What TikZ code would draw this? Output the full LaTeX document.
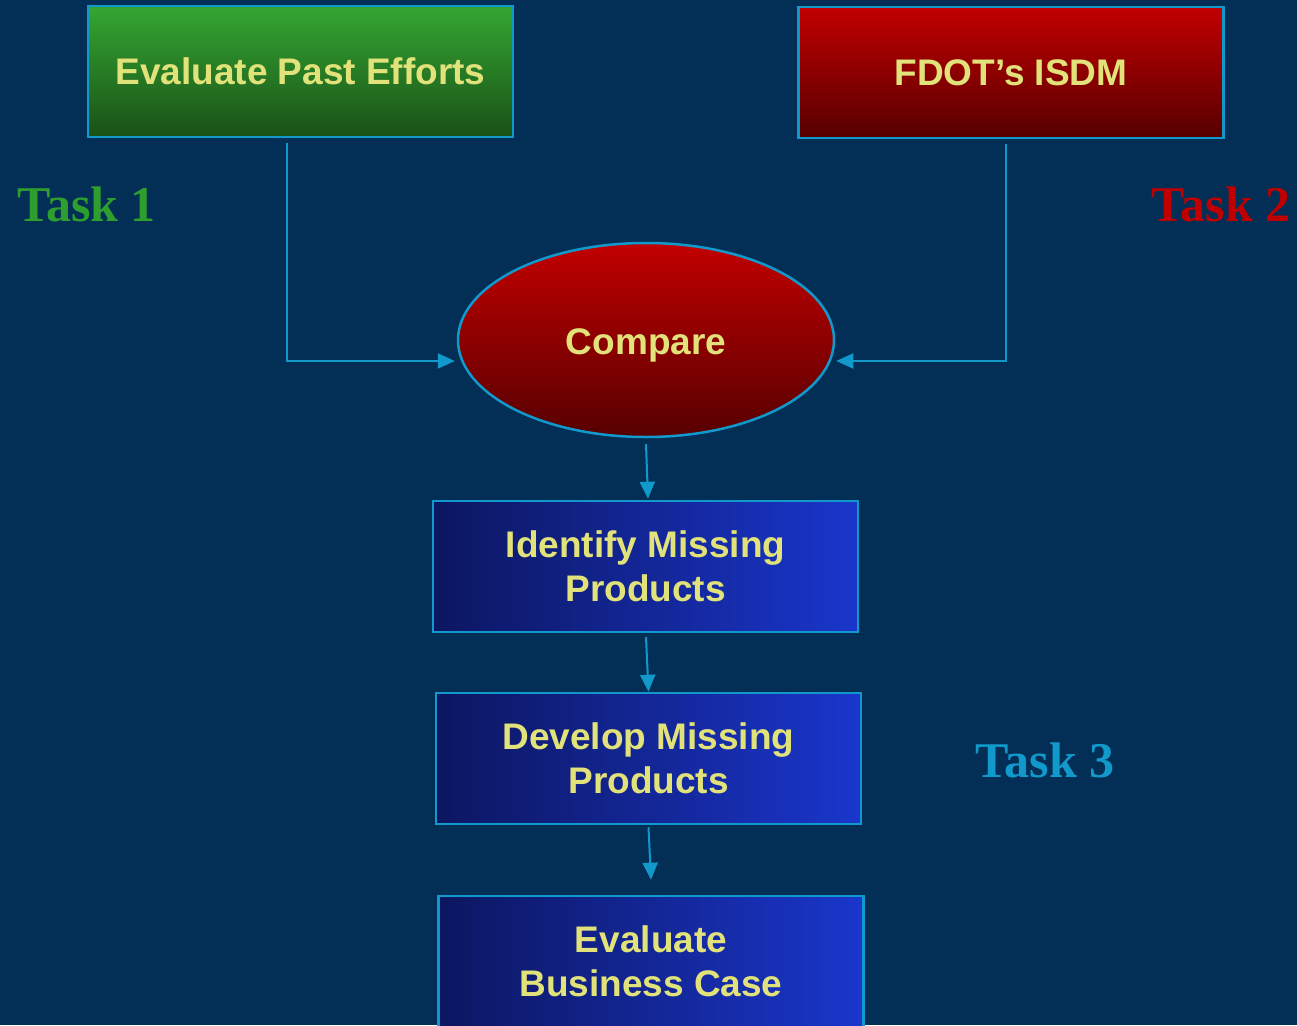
\documentclass[tikz,border=0pt]{standalone}
\usepackage{fontspec}
\setmainfont{Liberation Sans}
\newfontfamily\taskfont{Liberation Serif}
\usetikzlibrary{shapes.geometric,arrows.meta}
\definecolor{bgc}{HTML}{032F56}
\definecolor{edgec}{HTML}{1199CC}
\definecolor{txtc}{HTML}{E2E27A}
\definecolor{gtop}{HTML}{34A632}
\definecolor{gbot}{HTML}{1A5117}
\definecolor{rtop}{HTML}{C20000}
\definecolor{rbot}{HTML}{560000}
\definecolor{bleft}{HTML}{0C1660}
\definecolor{bright}{HTML}{1A36CC}
\definecolor{t1c}{HTML}{2E9E2E}
\definecolor{t2c}{HTML}{C00000}
\definecolor{t3c}{HTML}{1199CC}
\tikzset{
  boxbase/.style={draw=edgec, line width=2.5pt, rectangle, minimum width=425pt, minimum height=131pt, inner sep=0pt, text=txtc, font=\bfseries\fontsize{37}{44}\selectfont, align=center},
  greenbox/.style={boxbase, top color=gtop, bottom color=gbot},
  redbox/.style={boxbase, top color=rtop, bottom color=rbot},
  bluebox/.style={boxbase, left color=bleft, right color=bright},
  ovalbox/.style={draw=edgec, line width=2.5pt, ellipse, minimum width=376pt, minimum height=194pt, inner sep=0pt, text=txtc, font=\bfseries\fontsize{37}{44}\selectfont, top color=rtop, bottom color=rbot},
  tasklabel/.style={font=\taskfont\bfseries\fontsize{50}{60}\selectfont, inner sep=0pt},
  arr/.style={draw=edgec, line width=2pt, -{Triangle[length=17pt,width=15pt]}, edgec}
}
\begin{document}
\begin{tikzpicture}[x=1pt,y=-1pt]
\fill[bgc] (0,0) rectangle (1297,1025);
\useasboundingbox (0,0) rectangle (1297,1025);
\node[greenbox] (past) at (300.5,71.5) {Evaluate Past Efforts};
\node[redbox] (fdot) at (1011,72.5) {FDOT’s ISDM};
\node[ovalbox, text height=28pt, text depth=0pt] (cmp) at (646,340) {Compare};
\node[bluebox] (ident) at (645.5,566.5) {Identify Missing\\Products};
\node[bluebox] (devel) at (648.5,758.5) {Develop Missing\\Products};
\node[bluebox] (evalb) at (651,961.5) {Evaluate\\Business Case};
\node[tasklabel, text=t1c] (t1) at (86.5,204) {Task 1};
\node[tasklabel, text=t2c] (t2) at (1221,204) {Task 2};
\node[tasklabel, text=t3c] (t3) at (1045,760) {Task 3};
\draw[arr] ([xshift=-13.5pt,yshift=-5pt]past.south) |- ([xshift=-2pt,yshift=-21pt]cmp.west);
\draw[arr] ([xshift=-5pt,yshift=-5pt]fdot.south) |- ([xshift=1pt,yshift=-21pt]cmp.east);
\draw[arr] ([yshift=-6pt]cmp.south) -- ([xshift=2.5pt,yshift=1pt]ident.north);
\draw[arr] ([xshift=0.5pt,yshift=-4pt]ident.south) -- ([xshift=0pt,yshift=0pt]devel.north);
\draw[arr] ([yshift=-2pt]devel.south) -- ([yshift=15pt]evalb.north);
\end{tikzpicture}
\end{document}
